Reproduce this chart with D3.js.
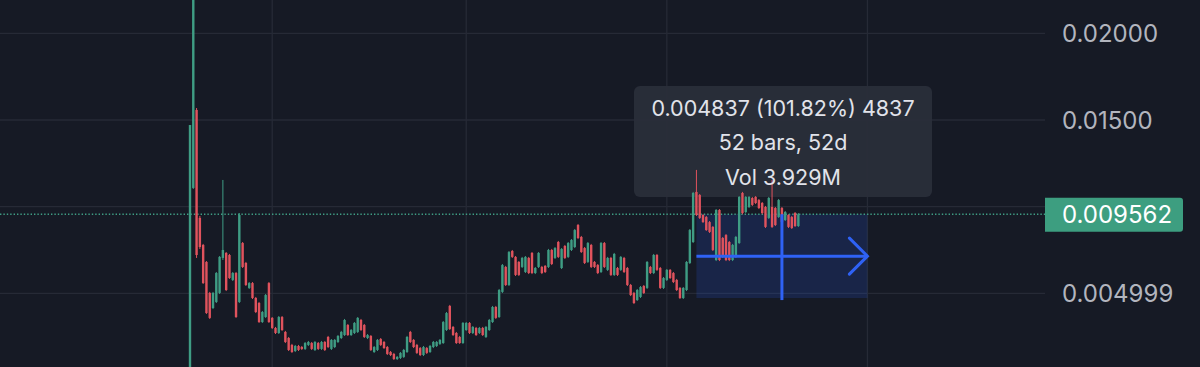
<!DOCTYPE html>
<meta charset="utf-8">
<style>
body { margin: 0; background: #161a25; }
svg { display: block; font-family: Inter, "Noto Sans", sans-serif; }
</style>
<body>
<script src="https://d3js.org/d3.v7.min.js"></script>
<script>

// daily candles, first bar on 2022-12-07
var startDate = new Date(2022, 11, 7);

var opens = [
  0.00046, 0.01108, 0.01558, 0.00935, 0.00779, 0.00681, 0.00502, 0.00415, 0.00450, 0.00502,
  0.00704, 0.00733, 0.00721, 0.00577, 0.00617, 0.00450, 0.00790, 0.00675, 0.00531, 0.00559,
  0.00473, 0.00444, 0.00334, 0.00363, 0.00559, 0.00358, 0.00300, 0.00271, 0.00363, 0.00277,
  0.00242, 0.00202, 0.00167, 0.00196, 0.00190, 0.00179, 0.00202, 0.00213, 0.00173, 0.00213,
  0.00179, 0.00219, 0.00248, 0.00179, 0.00190, 0.00219, 0.00242, 0.00259, 0.00317, 0.00259,
  0.00271, 0.00277, 0.00346, 0.00317, 0.00242, 0.00254, 0.00161, 0.00173, 0.00236, 0.00219,
  0.00190, 0.00161, 0.00150, 0.00121, 0.00127, 0.00133, 0.00161, 0.00277, 0.00231, 0.00202,
  0.00184, 0.00144, 0.00184, 0.00161, 0.00190, 0.00196, 0.00208, 0.00213, 0.00288, 0.00427,
  0.00306, 0.00271, 0.00248, 0.00213, 0.00288, 0.00329, 0.00271, 0.00300, 0.00271, 0.00300,
  0.00248, 0.00288, 0.00334, 0.00421, 0.00363, 0.00508, 0.00652, 0.00548, 0.00744, 0.00710,
  0.00681, 0.00652, 0.00623, 0.00704, 0.00733, 0.00617, 0.00652, 0.00652, 0.00658, 0.00652,
  0.00750, 0.00704, 0.00796, 0.00646, 0.00773, 0.00710, 0.00750, 0.00767, 0.00894, 0.00825,
  0.00761, 0.00681, 0.00779, 0.00681, 0.00663, 0.00623, 0.00790, 0.00635, 0.00704, 0.00606,
  0.00646, 0.00635, 0.00704, 0.00646, 0.00548, 0.00502, 0.00461, 0.00479, 0.00542, 0.00531,
  0.00652, 0.00617, 0.00721, 0.00646, 0.00531, 0.00577, 0.00635, 0.00617, 0.00577, 0.00531,
  0.00473, 0.00519, 0.00675, 0.00796, 0.01085, 0.01067, 0.00952, 0.00940, 0.00911, 0.00883,
  0.00692, 0.00981, 0.00819, 0.00836, 0.00796, 0.00692, 0.00710, 0.00790, 0.01079, 0.00969,
  0.00998, 0.01050, 0.01056, 0.01038, 0.01021, 0.00998, 0.00935, 0.00998, 0.00992, 0.00940,
  0.00992, 0.00923, 0.00952, 0.00940, 0.00963, 0.00888
];

var highs = [
  0.01471, 0.02250, 0.01569, 0.00946, 0.00785, 0.00686, 0.00508, 0.00508, 0.00623, 0.00715,
  0.01154, 0.00738, 0.00727, 0.00623, 0.00623, 0.00963, 0.00796, 0.00681, 0.00565, 0.00565,
  0.00479, 0.00450, 0.00398, 0.00496, 0.00565, 0.00363, 0.00306, 0.00369, 0.00369, 0.00283,
  0.00248, 0.00208, 0.00202, 0.00202, 0.00196, 0.00219, 0.00225, 0.00219, 0.00225, 0.00219,
  0.00225, 0.00225, 0.00254, 0.00236, 0.00236, 0.00259, 0.00283, 0.00352, 0.00323, 0.00294,
  0.00334, 0.00363, 0.00352, 0.00323, 0.00265, 0.00259, 0.00196, 0.00236, 0.00242, 0.00225,
  0.00196, 0.00167, 0.00156, 0.00138, 0.00161, 0.00179, 0.00254, 0.00283, 0.00236, 0.00208,
  0.00190, 0.00196, 0.00190, 0.00202, 0.00225, 0.00225, 0.00236, 0.00340, 0.00392, 0.00433,
  0.00311, 0.00277, 0.00254, 0.00334, 0.00334, 0.00334, 0.00311, 0.00306, 0.00306, 0.00306,
  0.00311, 0.00352, 0.00427, 0.00427, 0.00525, 0.00669, 0.00658, 0.00744, 0.00750, 0.00715,
  0.00686, 0.00710, 0.00715, 0.00710, 0.00738, 0.00652, 0.00738, 0.00658, 0.00663, 0.00756,
  0.00756, 0.00767, 0.00802, 0.00761, 0.00779, 0.00796, 0.00813, 0.00871, 0.00900, 0.00831,
  0.00767, 0.00796, 0.00785, 0.00686, 0.00669, 0.00796, 0.00796, 0.00710, 0.00710, 0.00733,
  0.00652, 0.00715, 0.00710, 0.00652, 0.00554, 0.00508, 0.00525, 0.00542, 0.00548, 0.00686,
  0.00658, 0.00727, 0.00727, 0.00652, 0.00594, 0.00640, 0.00640, 0.00623, 0.00583, 0.00536,
  0.00536, 0.00686, 0.00871, 0.01085, 0.01212, 0.01073, 0.00956, 0.00946, 0.00917, 0.00888,
  0.00986, 0.00986, 0.00825, 0.00842, 0.00802, 0.00785, 0.00831, 0.01061, 0.01085, 0.01061,
  0.01061, 0.01056, 0.01061, 0.01044, 0.01027, 0.01004, 0.01056, 0.01154, 0.00998, 0.01044,
  0.00998, 0.00975, 0.00956, 0.00946, 0.00969, 0.00963
];

var lows = [
  0.00029, 0.01102, 0.00704, 0.00756, 0.00554, 0.00381, 0.00352, 0.00409, 0.00444, 0.00496,
  0.00692, 0.00513, 0.00583, 0.00571, 0.00358, 0.00444, 0.00646, 0.00542, 0.00525, 0.00467,
  0.00386, 0.00329, 0.00329, 0.00358, 0.00329, 0.00294, 0.00265, 0.00265, 0.00283, 0.00213,
  0.00167, 0.00156, 0.00161, 0.00167, 0.00173, 0.00173, 0.00196, 0.00173, 0.00167, 0.00173,
  0.00173, 0.00167, 0.00184, 0.00173, 0.00184, 0.00213, 0.00236, 0.00254, 0.00254, 0.00254,
  0.00265, 0.00271, 0.00283, 0.00242, 0.00236, 0.00167, 0.00156, 0.00167, 0.00196, 0.00179,
  0.00144, 0.00138, 0.00115, 0.00115, 0.00121, 0.00127, 0.00156, 0.00213, 0.00184, 0.00150,
  0.00138, 0.00138, 0.00150, 0.00156, 0.00184, 0.00190, 0.00202, 0.00208, 0.00283, 0.00288,
  0.00254, 0.00208, 0.00208, 0.00208, 0.00283, 0.00265, 0.00265, 0.00254, 0.00265, 0.00254,
  0.00242, 0.00283, 0.00329, 0.00352, 0.00358, 0.00502, 0.00542, 0.00542, 0.00704, 0.00600,
  0.00600, 0.00646, 0.00617, 0.00611, 0.00611, 0.00611, 0.00646, 0.00611, 0.00617, 0.00646,
  0.00663, 0.00698, 0.00704, 0.00640, 0.00698, 0.00704, 0.00744, 0.00761, 0.00813, 0.00733,
  0.00669, 0.00675, 0.00646, 0.00646, 0.00611, 0.00617, 0.00646, 0.00629, 0.00600, 0.00600,
  0.00600, 0.00629, 0.00617, 0.00542, 0.00484, 0.00438, 0.00456, 0.00473, 0.00496, 0.00525,
  0.00611, 0.00611, 0.00629, 0.00525, 0.00525, 0.00571, 0.00583, 0.00559, 0.00513, 0.00467,
  0.00467, 0.00513, 0.00669, 0.00790, 0.00946, 0.00929, 0.00906, 0.00860, 0.00848, 0.00744,
  0.00686, 0.00686, 0.00704, 0.00686, 0.00686, 0.00686, 0.00704, 0.00785, 0.00956, 0.00963,
  0.00992, 0.01004, 0.01015, 0.00986, 0.00956, 0.00877, 0.00929, 0.00877, 0.00888, 0.00935,
  0.00906, 0.00917, 0.00877, 0.00871, 0.00883, 0.00883
];

var closes = [
  0.01471, 0.02221, 0.00721, 0.00767, 0.00559, 0.00386, 0.00358, 0.00502, 0.00617, 0.00710,
  0.00750, 0.00519, 0.00588, 0.00617, 0.00363, 0.00952, 0.00652, 0.00548, 0.00559, 0.00473,
  0.00392, 0.00334, 0.00392, 0.00490, 0.00334, 0.00300, 0.00271, 0.00363, 0.00288, 0.00219,
  0.00173, 0.00161, 0.00196, 0.00173, 0.00179, 0.00213, 0.00219, 0.00179, 0.00219, 0.00179,
  0.00219, 0.00173, 0.00190, 0.00231, 0.00231, 0.00254, 0.00277, 0.00346, 0.00259, 0.00288,
  0.00329, 0.00358, 0.00288, 0.00248, 0.00259, 0.00173, 0.00190, 0.00231, 0.00202, 0.00184,
  0.00150, 0.00144, 0.00121, 0.00133, 0.00156, 0.00173, 0.00248, 0.00219, 0.00190, 0.00156,
  0.00144, 0.00190, 0.00156, 0.00196, 0.00219, 0.00219, 0.00231, 0.00334, 0.00386, 0.00294,
  0.00259, 0.00213, 0.00213, 0.00329, 0.00329, 0.00271, 0.00306, 0.00259, 0.00300, 0.00259,
  0.00306, 0.00346, 0.00421, 0.00358, 0.00519, 0.00663, 0.00548, 0.00738, 0.00710, 0.00606,
  0.00606, 0.00704, 0.00710, 0.00617, 0.00617, 0.00646, 0.00733, 0.00617, 0.00623, 0.00750,
  0.00669, 0.00761, 0.00710, 0.00756, 0.00704, 0.00790, 0.00808, 0.00865, 0.00819, 0.00738,
  0.00675, 0.00790, 0.00652, 0.00652, 0.00617, 0.00790, 0.00652, 0.00704, 0.00606, 0.00727,
  0.00606, 0.00710, 0.00623, 0.00548, 0.00490, 0.00444, 0.00519, 0.00536, 0.00502, 0.00681,
  0.00617, 0.00721, 0.00635, 0.00531, 0.00588, 0.00635, 0.00588, 0.00565, 0.00519, 0.00473,
  0.00531, 0.00681, 0.00865, 0.01079, 0.00952, 0.00935, 0.00911, 0.00865, 0.00854, 0.00750,
  0.00981, 0.00692, 0.00710, 0.00692, 0.00692, 0.00779, 0.00825, 0.01056, 0.00963, 0.01056,
  0.01056, 0.01010, 0.01021, 0.00992, 0.00963, 0.00883, 0.01050, 0.00883, 0.00894, 0.01038,
  0.00911, 0.00969, 0.00883, 0.00877, 0.00888, 0.009562
];

// price axis (the 0.01 label sits under the last-price tag, so it is not shown)
var gridPrices = [0.02, 0.015, 0.01, 0.005];
var priceTicks = [0.02, 0.015, 0.005];
var priceTickLabels = ["0.02000", "0.01500", "0.004999"];
var lastPrice = 0.009562;
var lastPriceLabel = "0.009562";

// measure tool
var measureStart = 154, measureBars = 52;
var measureLow = 0.004725;
var measureLines = ["0.004837 (101.82%) 4837", "52 bars, 52d", "Vol 3.929M"];

var width = 1200, height = 367;
var plotRight = 1045;
var upColor = "#3f9d84", downColor = "#e0535d";

var data = opens.map(function(o, i) {
  return {date: d3.timeDay.offset(startDate, i), o: o, h: highs[i], l: lows[i], c: closes[i]};
});

var x = d3.scaleTime()
    .domain([startDate, d3.timeDay.offset(startDate, 260)])
    .range([190, plotRight]);
var y = d3.scaleLinear().domain([0.005, 0.015]).range([293.3, 120]);

var svg = d3.select("body").append("svg")
    .attr("width", width)
    .attr("height", height);

svg.append("rect").attr("width", width).attr("height", height).attr("fill", "#161a25");

svg.append("clipPath").attr("id", "plot")
  .append("rect").attr("x", 0).attr("y", 0).attr("width", plotRight).attr("height", height);

var gridG = svg.append("g").attr("clip-path", "url(#plot)");
var tipG = svg.append("g");
var plot = svg.append("g").attr("clip-path", "url(#plot)");

// grid
gridG.selectAll(".hgrid").data(gridPrices).enter().append("line")
    .attr("x1", 0).attr("x2", plotRight)
    .attr("y1", function(d) { return y(d); }).attr("y2", function(d) { return y(d); })
    .attr("stroke", "#262a36").attr("stroke-width", 1.3);

gridG.selectAll(".vgrid").data(x.ticks(d3.timeMonth.every(2))).enter().append("line")
    .attr("x1", function(d) { return x(d); }).attr("x2", function(d) { return x(d); })
    .attr("y1", 0).attr("y2", height)
    .attr("stroke", "#262a36").attr("stroke-width", 1.3);

// tooltip background
var tip = {x: 634, y: 86, w: 298, h: 111};
tipG.append("rect")
    .attr("x", tip.x).attr("y", tip.y).attr("width", tip.w).attr("height", tip.h)
    .attr("rx", 6).attr("fill", "#2a2e39").attr("fill-opacity", 0.96);

// measure box
var mx0 = x(data[measureStart].date),
    mx1 = x(d3.timeDay.offset(data[measureStart].date, measureBars)),
    my0 = y(lastPrice), my1 = y(measureLow);
plot.append("rect")
    .attr("x", mx0).attr("y", my0).attr("width", mx1 - mx0).attr("height", my1 - my0)
    .attr("fill", "#2962ff").attr("fill-opacity", 0.16);

// last price dotted line
plot.append("line")
    .attr("x1", 0).attr("x2", plotRight)
    .attr("y1", y(lastPrice)).attr("y2", y(lastPrice))
    .attr("stroke", upColor).attr("stroke-width", 1.4)
    .attr("stroke-dasharray", "1.4,2");

// candles
var candle = plot.selectAll(".candle").data(data).enter().append("g");
candle.append("line")
    .attr("x1", function(d) { return x(d.date); }).attr("x2", function(d) { return x(d.date); })
    .attr("y1", function(d) { return y(d.h); }).attr("y2", function(d) { return y(d.l); })
    .attr("stroke", function(d) { return d.c >= d.o ? upColor : downColor; })
    .attr("stroke-width", 1);
candle.append("rect")
    .attr("x", function(d) { return x(d.date) - 1.2; })
    .attr("width", 2.4)
    .attr("y", function(d) { return y(Math.max(d.o, d.c)); })
    .attr("height", function(d) { return Math.max(1, Math.abs(y(d.o) - y(d.c))); })
    .attr("fill", function(d) { return d.c >= d.o ? upColor : downColor; });

// measure arrows
var midY = (my0 + my1) / 2, midX = (mx0 + mx1) / 2;
var blue = "#2f62f5";
plot.append("line").attr("x1", mx0).attr("x2", mx1).attr("y1", midY).attr("y2", midY)
    .attr("stroke", blue).attr("stroke-width", 3);
plot.append("path")
    .attr("d", "M" + (mx1 - 18) + "," + (midY - 18) + "L" + mx1 + "," + midY + "L" + (mx1 - 18) + "," + (midY + 18))
    .attr("fill", "none").attr("stroke", blue).attr("stroke-width", 3).attr("stroke-linecap", "round");
plot.append("line").attr("x1", midX).attr("x2", midX).attr("y1", my0).attr("y2", my1 + 2)
    .attr("stroke", blue).attr("stroke-width", 3);

// tooltip text
svg.selectAll(".tiptext").data(measureLines).enter().append("text")
    .attr("x", tip.x + tip.w / 2)
    .attr("y", function(d, i) { return 115.5 + i * 34.5; })
    .attr("text-anchor", "middle")
    .attr("fill", "#e1e3ea")
    .attr("font-size", 21.5)
    .text(function(d) { return d; });

// price axis labels
svg.selectAll(".ptick").data(priceTicks).enter().append("text")
    .attr("x", 1062)
    .attr("y", function(d) { return y(d) + 9; })
    .attr("fill", "#b2b5be")
    .attr("font-size", 24)
    .text(function(d, i) { return priceTickLabels[i]; });

// last price label
var ly = y(lastPrice);
svg.append("path")
    .attr("d", "M1045," + (ly - 16.5) + "H1180a3,3 0 0 1 3,3V" + (ly + 14.5) + "a3,3 0 0 1 -3,3H1045Z")
    .attr("fill", "#3d9e80");
svg.append("text")
    .attr("x", 1062).attr("y", ly + 9)
    .attr("fill", "#ffffff").attr("font-size", 24)
    .text(lastPriceLabel);

</script>
</body>
